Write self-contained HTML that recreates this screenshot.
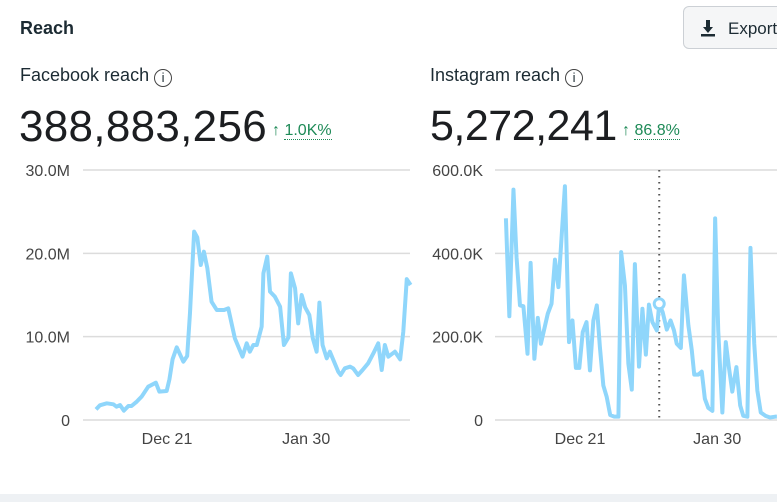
<!DOCTYPE html>
<html><head><meta charset="utf-8"><style>
body{margin:0;width:777px;height:502px;overflow:hidden;background:#fff;font-family:"Liberation Sans",sans-serif;color:#1c1e21;position:relative}
.t{position:absolute;white-space:nowrap}
</style></head><body>
<div class="t" style="left:20px;top:18px;font-size:18px;font-weight:bold;color:#1c2b33">Reach</div>
<div style="position:absolute;left:683px;top:6px;width:110px;height:43px;border:1px solid #ccd0d5;border-radius:6px;background:#f5f6f7;box-sizing:border-box">
<svg width="20" height="20" style="position:absolute;left:14px;top:11px" viewBox="0 0 20 20"><path d="M8 2h4v7h3l-5 6-5-6h3z" fill="#1c2b33"/><rect x="3" y="16" width="14" height="2.5" fill="#1c2b33"/></svg>
<span style="position:absolute;left:44px;top:12px;font-size:17px;color:#1c2b33">Export</span></div>
<div class="t" style="left:20px;top:65px;font-size:18px;color:#1c2b33">Facebook reach <span style="display:inline-block;width:18px;height:18px;border:1.5px solid #444;border-radius:50%;font-size:13px;text-align:center;line-height:16px;vertical-align:-1px;box-sizing:border-box">i</span></div>
<div class="t" style="left:430px;top:65px;font-size:18px;color:#1c2b33">Instagram reach <span style="display:inline-block;width:18px;height:18px;border:1.5px solid #444;border-radius:50%;font-size:13px;text-align:center;line-height:16px;vertical-align:-1px;box-sizing:border-box">i</span></div>
<div class="t" style="left:19px;top:102px;font-size:44px;letter-spacing:0.3px;color:#1c1e21">388,883,256</div>
<div class="t" style="left:272px;top:122px;font-size:16px;color:#1e8a57">↑ <span style="border-bottom:1px dotted #1e8a57">1.0K%</span></div>
<div class="t" style="left:430px;top:102px;font-size:43px;letter-spacing:-0.5px;color:#1c1e21">5,272,241</div>
<div class="t" style="left:622px;top:122px;font-size:16px;color:#1e8a57">↑ <span style="border-bottom:1px dotted #1e8a57">86.8%</span></div>
<div style="position:absolute;left:0;top:494px;width:777px;height:8px;background:#eef1f4"></div>
<svg id="c" width="777" height="502" style="position:absolute;left:0;top:0"></svg>
<script>
const fbDays=[0,1.1,3.1,5,5.9,6.9,8,9.3,10.2,11.7,13.1,15,17.2,18.2,20.3,21.1,22,23.2,25.1,26.2,27,28.2,29.1,30.1,31,32,33.2,34.7,36.8,38,39.9,42.1,43.3,44.2,45.2,46.2,47.6,48.1,49.2,50,51.4,52.9,54,55.3,56,57.2,58.1,59.1,60.1,61.3,62.3,63.4,64.2,65.1,66.3,67.2,68.4,69.6,70.3,71.5,73,73.9,75.3,76.6,78.2,79.7,81.1,82.1,83,84,85.9,87.4,88.3,89.3,90.4];
const fbValues=[1.28,1.76,2,1.88,1.6,1.8,1.12,1.68,1.68,2.2,2.8,4,4.48,3.4,3.48,4.88,7.28,8.72,7,7.68,12.8,22.6,21.9,18.6,20.2,18.2,14.2,13.2,13.2,13.4,9.8,7.6,9.2,8.2,9,9,11.2,17.6,19.6,15.4,14.8,13.6,9,9.92,17.6,15.8,11.6,15,13.52,12.6,9.8,8.2,14.08,9,7.4,8.2,7,5.8,5.4,6.2,6.4,6.2,5.4,6,6.8,8,9.2,6,9,7.6,8.2,7.28,10.6,16.9,16.2];
const fbTicks=[0,10,20,30];
const fbTickLabels=["0","10.0M","20.0M","30.0M"];
const igDays=[-1.2,-0.2,1,1.9,2.9,3.9,5.1,6,7.1,8.1,9,11,12.1,13.1,14.1,15.1,16,17.2,18.2,19.2,20.2,21.2,22.3,23.3,24.3,25.3,26.2,27.2,28.2,29.2,30.4,31.6,32.4,33.5,34.5,35.5,36.4,37.6,38.6,39.6,40.5,41.5,42.8,43.5,44.5,45.7,46.8,47.8,48.6,49.8,50.7,52,53,53.7,54.9,55.9,56.8,57.8,59,59.8,60.7,61.9,62.9,63.8,64.8,66,67.1,68,69.2,70.1,71.2,72.1,73.1,74.5,75.8,77.3,77.8];
const igValues=[484,249,553,391,275,273,159,377,147,245,183,255,279,385,319,448,561,187,239,125,125,211,235,119,239,275,175,83,55,12,8,8,403,323,135,73,374,128,267,157,277,235,215,279,259,217,239,215,183,173,347,227,167,109,109,116,51,29,22,484,215,18,187,127,68,127,35,10,8,413,183,71,18,10,6,8,8];
const igTicks=[0,200,400,600];
const igTickLabels=["0","200.0K","400.0K","600.0K"];
const xTickDays=[20.4,60.4];
const xTickLabels=["Dec 21","Jan 30"];
const hoverDay=43.5, hoverValue=279;
const svg=document.getElementById('c');const NS='http://www.w3.org/2000/svg';
function mk(t,a){const e=document.createElementNS(NS,t);for(const k in a)e.setAttribute(k,a[k]);svg.appendChild(e);return e;}
function chart(cfg){
 const y=v=>cfg.y0-(v/cfg.max)*(cfg.y0-cfg.y1);
 const x=d=>cfg.xa+(d-20.4)*cfg.ppd;
 cfg.ticks.forEach((t,i)=>{
  const g=mk('line',{x1:cfg.gx0,x2:cfg.gx1,y1:y(t),y2:y(t),stroke:'#dcdcdc','stroke-width':1.5});
  
  
  const l=mk('text',{x:cfg.lx,y:y(t)+6,'text-anchor':'end','font-size':16,fill:'#444','font-family':'Liberation Sans'});
  l.textContent=cfg.labels[i];
  
  
 });
 xTickDays.forEach((d,i)=>{
  const l=mk('text',{x:x(d),y:444,'text-anchor':'middle','font-size':16,fill:'#444','font-family':'Liberation Sans'});
  l.textContent=xTickLabels[i];
  
  
 });
 if(cfg.hover){
  const v=mk('line',{x1:x(hoverDay),x2:x(hoverDay),y1:170,y2:420,stroke:'#555','stroke-width':2,'stroke-dasharray':'1.5 4.5'});
  
  
 }
 const p=mk('polyline',{points:cfg.days.map((d,i)=>x(d)+','+y(cfg.vals[i])).join(' '),fill:'none',stroke:'#8fd6fb','stroke-width':4,'stroke-linejoin':'round'});
 
 
 if(cfg.hover){
  const c=mk('circle',{cx:x(hoverDay),cy:y(hoverValue),r:5,fill:'#fff',stroke:'#8fd6fb','stroke-width':3});
  
  
 }
}
chart({name:'facebook',days:fbDays,vals:fbValues,ticks:fbTicks,labels:fbTickLabels,max:30,y0:420,y1:170,xa:167,ppd:3.48,gx0:83,gx1:410,lx:70,hover:false});
chart({name:'instagram',days:igDays,vals:igValues,ticks:igTicks,labels:igTickLabels,max:600,y0:420,y1:170,xa:580,ppd:3.43,gx0:495,gx1:777,lx:483,hover:true});
</script>
</body></html>
